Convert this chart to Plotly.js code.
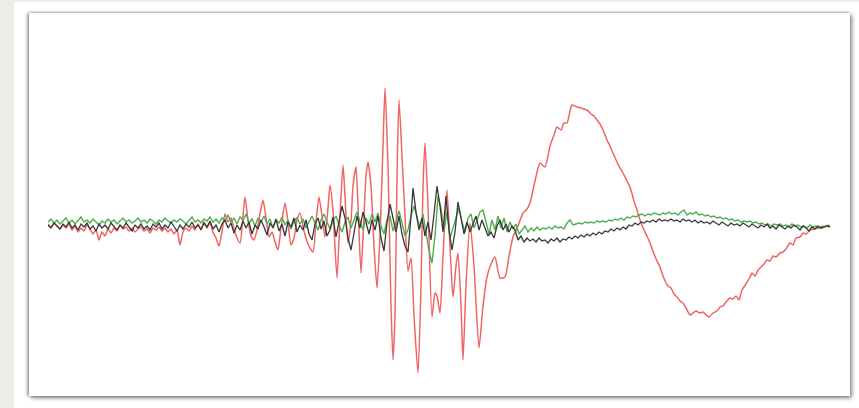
<!DOCTYPE html>
<html>
<head>
<meta charset="utf-8">
<script src="https://cdn.plot.ly/plotly-3.0.1.min.js"></script>
<style>
html,body{margin:0;padding:0;background:#fff;width:859px;height:408px;overflow:hidden;}
#strip{position:absolute;left:0;top:0;width:14px;height:408px;background:#eeede9;}
#top{position:absolute;left:14px;top:0;width:845px;height:2px;background:#efefec;}
#panel{position:absolute;left:29px;top:13px;width:821px;height:383px;background:#fff;
  box-shadow:-2px 0 3px rgba(0,0,0,0.35), 2px 2px 4px rgba(0,0,0,0.45), 0 -1px 2px rgba(0,0,0,0.12);}
#chart{position:absolute;left:0;top:0;width:859px;height:408px;filter:blur(0.35px);}
</style>
</head>
<body>
<div id="strip"></div><div id="top"></div><div id="panel"></div>
<div id="chart"></div>
<script>
// [sample, amplitude] pairs
const redPts = [[48,2],[51,-1],[54,3],[57,0],[60,-3],[63,1],[66,-2],[69,2],[72,-4],[75,0],[78,-6],[81,-2],[84,-5],[87,1],[90,-3],[93,-8],[96,-4],[99,-14],[102,-6],[105,-10],[108,-3],[111,-7],[114,-2],[117,-5],[120,1],[123,-3],[126,-1],[129,-5],[132,-2],[135,-6],[138,-3],[141,-1],[144,-5],[147,-3],[150,-7],[153,-2],[156,-4],[159,-1],[162,-5],[165,-2],[168,-6],[171,-3],[174,-8],[177,-4],[180,-19],[183,-6],[186,-2],[189,-5],[192,0],[195,-4],[198,2],[201,-3],[204,4],[207,-2],[210,3],[213,-6],[216,-12],[219,-20],[222,-5],[225,12],[228,4],[231,8],[234,-3],[237,-12],[240,-17],[243,10],[245,29],[248,6],[251,-10],[254,-14],[257,-4],[260,12],[263,26],[266,8],[269,-11],[272,-6],[275,-16],[278,-24],[281,-2],[285,23],[288,4],[291,-19],[294,-12],[297,6],[300,13],[304,-5],[308,-18],[313,-26],[316,4],[319,29],[322,10],[325,-11],[328,18],[330,41],[333,15],[337,-52],[340,10],[343,61],[345,30],[348,-17],[351,5],[353,40],[356,59],[358,20],[361,-47],[364,10],[366,50],[368,64],[371,40],[374,-20],[377,-62],[380,-10],[383,80],[385,138],[388,60],[391,-80],[393,-134],[395,-90],[397,50],[399,126],[402,70],[405,10],[408,-45],[411,-32],[414,-90],[418,-147],[421,-60],[423,40],[425,83],[428,20],[432,-91],[435,-67],[437,-70],[440,-87],[443,-30],[447,36],[450,-20],[453,-71],[456,-40],[458,-27],[461,-80],[463,-134],[466,-60],[470,3],[474,-40],[479,-122],[483,-80],[487,-51],[491,-38],[495,-31],[500,-52],[505,-51],[509,-30],[513,-11],[518,0],[523,13],[527,17],[530,23],[535,45],[540,63],[545,59],[550,80],[554,91],[557,99],[561,96],[564,103],[567,103],[570,115],[572,121],[575,120],[577,119],[581,118],[584,117],[587,116],[591,112],[594,110],[597,106],[600,102],[603,96],[607,86],[610,80],[613,73],[617,64],[620,58],[623,53],[627,45],[630,39],[634,25],[637,16],[640,6],[644,-4],[647,-10],[650,-17],[654,-28],[657,-35],[660,-41],[663,-50],[666,-57],[668,-60],[671,-62],[674,-68],[677,-71],[680,-75],[683,-77],[686,-82],[690,-89],[693,-87],[696,-85],[700,-87],[703,-86],[706,-89],[709,-91],[712,-88],[715,-86],[718,-84],[720,-81],[723,-80],[726,-76],[730,-72],[733,-73],[736,-70],[739,-74],[742,-64],[746,-58],[750,-51],[752,-47],[755,-50],[758,-44],[761,-41],[764,-38],[767,-34],[770,-35],[773,-30],[776,-31],[780,-27],[783,-26],[786,-23],[790,-17],[793,-19],[796,-12],[800,-11],[803,-7],[806,-8],[810,-4],[814,-3],[818,-2],[822,-2],[826,0],[830,-1]];

const greenPts = [[48,4],[51,7],[54,3],[57,6],[60,2],[63,5],[66,8],[69,3],[72,6],[75,2],[78,5],[81,9],[84,4],[87,6],[90,3],[93,7],[96,4],[99,1],[102,5],[105,3],[108,7],[111,4],[114,6],[117,2],[120,5],[123,8],[126,4],[129,6],[132,3],[135,5],[138,8],[141,4],[144,6],[147,3],[150,7],[153,5],[156,2],[159,6],[162,4],[165,8],[168,5],[171,3],[174,6],[177,4],[180,7],[183,5],[186,2],[189,6],[192,9],[195,4],[198,6],[201,3],[204,7],[207,5],[210,9],[213,4],[216,7],[219,3],[222,8],[225,5],[228,11],[231,4],[234,8],[237,2],[240,9],[243,6],[246,12],[249,3],[252,7],[255,0],[258,8],[261,4],[264,10],[267,2],[270,7],[273,-2],[276,6],[279,3],[282,9],[285,1],[288,6],[291,-3],[294,5],[297,8],[300,2],[303,7],[306,-2],[309,4],[312,10],[315,3],[318,-4],[321,6],[324,12],[327,4],[330,-3],[333,5],[336,10],[339,1],[342,-6],[345,4],[348,9],[351,-2],[354,6],[357,14],[360,5],[363,-4],[366,8],[369,2],[372,12],[375,4],[378,13],[381,0],[384,-8],[387,6],[390,10],[393,-5],[396,4],[399,15],[402,3],[405,-10],[408,-4],[411,10],[414,20],[417,8],[420,-2],[423,12],[426,-8],[429,-25],[432,-37],[435,-10],[438,30],[441,18],[444,-5],[447,14],[450,-12],[453,-2],[456,10],[459,18],[462,4],[465,-6],[468,8],[471,12],[474,-2],[477,6],[480,14],[483,16],[486,4],[489,-8],[492,6],[495,-4],[498,10],[501,-2],[504,8],[507,-6],[510,4],[513,-3],[516,2],[519,-8],[522,-4],[525,0],[528,-6],[531,-2],[534,-5],[537,-1],[540,-4],[543,-2],[546,-3],[549,-1],[552,-3],[555,0],[558,-2],[561,-1],[564,-3],[567,3],[570,6],[573,1],[576,2],[579,3],[582,2],[585,4],[588,3],[591,4],[594,3],[597,5],[600,4],[603,5],[606,4],[609,6],[612,5],[615,7],[618,6],[621,8],[624,6],[627,9],[630,8],[633,10],[636,9],[639,11],[642,12],[645,10],[648,12],[651,11],[654,13],[657,12],[660,11],[663,13],[666,12],[669,14],[672,12],[675,13],[678,11],[681,14],[684,16],[687,11],[690,13],[693,12],[696,14],[699,11],[702,12],[705,10],[708,11],[711,9],[714,10],[717,8],[720,9],[723,7],[726,8],[729,6],[732,7],[735,5],[738,6],[741,4],[744,5],[747,4],[750,5],[753,3],[756,4],[759,2],[762,3],[765,1],[768,2],[771,0],[774,2],[777,1],[780,2],[783,0],[786,1],[789,-1],[792,2],[795,0],[798,1],[801,-1],[804,0],[807,-2],[810,1],[813,-1],[816,0],[819,-2],[822,0],[825,-1],[828,1],[830,0]];

const blackPts = [[48,1],[51,-2],[54,3],[57,0],[60,-3],[63,2],[66,-1],[69,4],[72,-2],[75,1],[78,-4],[81,2],[84,-1],[87,3],[90,-3],[93,0],[96,-5],[99,2],[102,-2],[105,1],[108,-3],[111,3],[114,0],[117,-4],[120,1],[123,-2],[126,3],[129,-1],[132,-5],[135,1],[138,-2],[141,2],[144,-3],[147,0],[150,-4],[153,2],[156,-1],[159,3],[162,-3],[165,1],[168,-2],[171,4],[174,-1],[177,-5],[180,1],[183,-3],[186,2],[189,-1],[192,4],[195,-2],[198,1],[201,-4],[204,3],[207,-1],[210,5],[213,-3],[216,1],[219,-6],[222,2],[225,6],[228,-2],[231,3],[234,-7],[237,1],[240,-4],[243,5],[246,-2],[249,4],[252,-8],[255,1],[258,-3],[261,6],[264,-1],[267,-9],[270,3],[273,-2],[276,7],[279,-5],[282,2],[285,-10],[288,4],[291,-1],[294,8],[297,-6],[300,1],[303,-4],[306,6],[309,-8],[312,-14],[315,2],[318,8],[321,-3],[324,5],[327,-10],[330,-4],[333,9],[336,-11],[339,6],[342,20],[345,8],[348,-12],[351,-24],[354,-6],[357,10],[360,-2],[363,14],[366,4],[369,-8],[372,6],[375,-4],[378,10],[381,-12],[384,-25],[387,4],[390,22],[393,8],[396,-6],[399,10],[402,-8],[405,-20],[408,-26],[411,10],[413,38],[416,14],[419,-4],[422,8],[425,-10],[428,4],[431,-14],[434,12],[437,40],[440,20],[443,-6],[446,30],[449,-4],[452,-24],[455,-6],[458,24],[461,6],[464,-8],[467,4],[470,-6],[473,2],[476,10],[479,-4],[482,6],[485,-2],[488,-10],[491,-6],[494,-12],[497,0],[500,6],[503,-4],[506,2],[509,-6],[512,0],[515,-4],[518,-14],[521,-10],[524,-16],[527,-12],[530,-15],[533,-13],[536,-16],[539,-12],[542,-15],[545,-14],[548,-17],[551,-13],[554,-15],[557,-12],[560,-16],[563,-13],[566,-14],[569,-11],[572,-13],[575,-10],[578,-12],[581,-9],[584,-11],[587,-8],[590,-10],[593,-7],[596,-9],[599,-6],[602,-8],[605,-5],[608,-6],[611,-3],[614,-5],[617,-2],[620,-4],[623,-1],[626,-3],[629,1],[632,0],[635,3],[638,1],[641,4],[644,3],[647,5],[650,4],[653,6],[656,4],[659,7],[662,5],[665,6],[668,5],[671,7],[674,5],[677,6],[680,4],[683,7],[686,5],[689,6],[692,4],[695,6],[698,3],[701,5],[704,3],[707,4],[710,2],[713,5],[716,3],[719,1],[722,4],[725,2],[728,0],[731,3],[734,1],[737,2],[740,0],[743,3],[746,1],[749,-1],[752,2],[755,0],[758,-2],[761,1],[764,-1],[767,2],[770,-2],[773,0],[776,-3],[779,1],[782,-1],[785,-3],[788,0],[791,-2],[794,1],[797,-1],[800,-4],[803,0],[806,-2],[809,-5],[812,-1],[815,-3],[818,0],[821,-2],[824,-1],[827,0],[830,-1]];

function tr(pts, color, width, shape) {
  return {
    x: pts.map(p => p[0]), y: pts.map(p => p[1]),
    type: 'scatter', mode: 'lines', hoverinfo: 'skip',
    line: {color: color, width: width, shape: shape || 'linear', smoothing: 0.6}
  };
}
const data = [
  tr(redPts, '#f06464', 1.5, 'spline'),
  tr(greenPts, '#4fae4f', 1.4),
  tr(blackPts, '#383838', 1.3)
];
const layout = {
  width: 859, height: 408,
  margin: {l: 48, r: 29, t: 40, b: 18, pad: 0},
  paper_bgcolor: 'rgba(0,0,0,0)', plot_bgcolor: 'rgba(0,0,0,0)',
  showlegend: false,
  xaxis: {range: [48, 830], visible: false, fixedrange: true},
  yaxis: {range: [-164, 186], visible: false, fixedrange: true}
};
Plotly.newPlot('chart', data, layout, {staticPlot: true, displayModeBar: false});
</script>
</body>
</html>
